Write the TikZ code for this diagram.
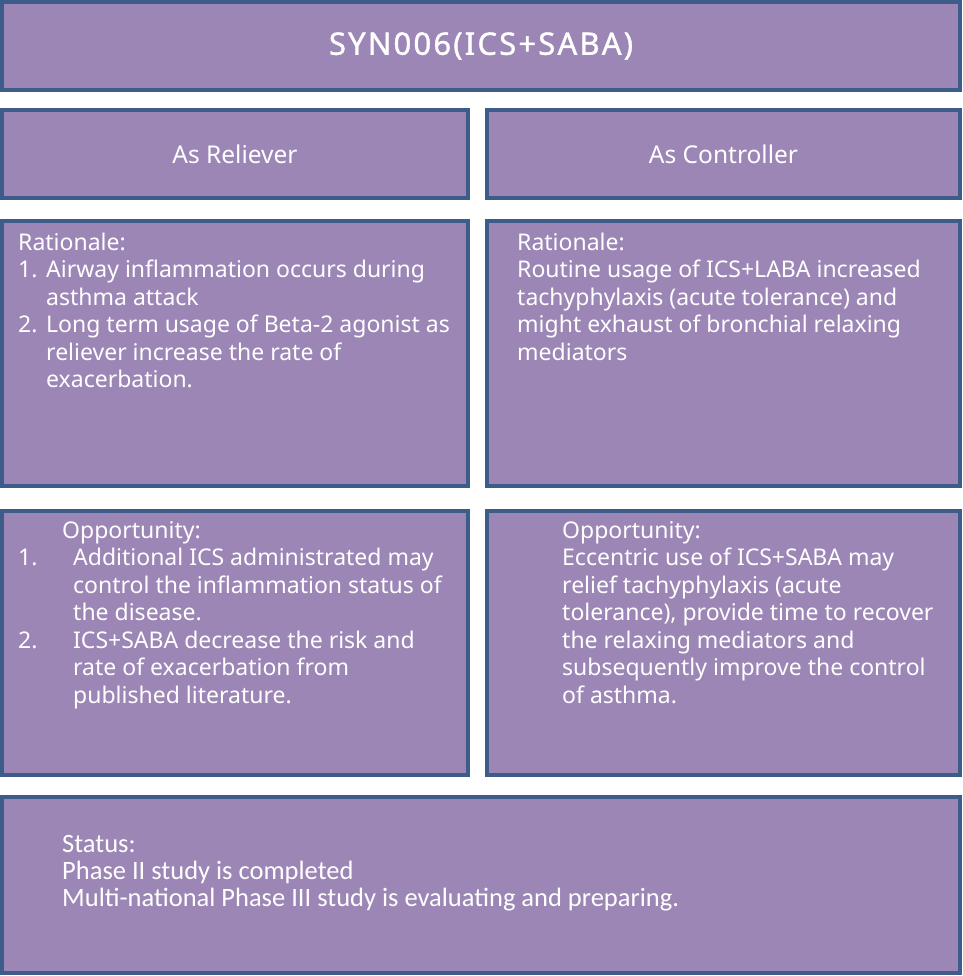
\documentclass[tikz,border=0pt]{standalone}
\usepackage{fontspec}
\setmainfont{Noto Sans}
\newfontfamily\statusfont{Carlito}
\newfontfamily\titlefont[LetterSpace=7,FakeBold=1.2]{Noto Sans}
\usetikzlibrary{positioning}

\definecolor{cardfill}{RGB}{156,134,182}
\definecolor{cardline}{RGB}{62,92,138}

\tikzset{
  card/.style={draw=cardline, fill=cardfill, line width=4pt, inner sep=0pt, text=white},
  cardtext/.style={text=white, font=\fontsize{23}{27.5}\selectfont, align=left, inner sep=0pt, anchor=base west},
}
\newcommand{\numbox}[2]{\makebox[#1][l]{#2}}

\begin{document}
\begin{tikzpicture}[x=1pt,y=-1pt]
    \useasboundingbox (0,0) rectangle (962,976);
    % cards
    \node[card, minimum width=958pt, minimum height=88pt, font=\titlefont\fontsize{31}{34}\selectfont] (title) at (481,46) {SYN006(ICS+SABA)};
    \node[card, minimum width=466pt, minimum height=88pt, font=\fontsize{24.5}{28}\selectfont] (reliever) at (235,154) {As Reliever};
    \node[card, minimum width=473pt, minimum height=88pt, font=\fontsize{24.5}{28}\selectfont] (controller) at (723.5,154) {As Controller};
    \node[card, minimum width=466pt, minimum height=265pt] (relrat) at (235,353.5) {};
    \node[card, minimum width=473pt, minimum height=265pt] (conrat) at (723.5,353.5) {};
    \node[card, minimum width=466pt, minimum height=264pt] (relopp) at (235,643) {};
    \node[card, minimum width=473pt, minimum height=264pt] (conopp) at (723.5,643) {};
    \node[card, minimum width=958pt, minimum height=176pt] (status) at (481,885) {};
    % texts (base anchor sits on the last line)
    \node[cardtext] (relrattext) at (18,387.5) {Rationale:\\
      \numbox{28pt}{1.}Airway inflammation occurs during\\
      \hspace*{28pt}asthma attack\\
      \numbox{28pt}{2.}Long term usage of Beta-2 agonist as\\
      \hspace*{28pt}reliever increase the rate of\\
      \hspace*{28pt}exacerbation.};
    \node[cardtext] (conrattext) at (517,360) {Rationale:\\
      Routine usage of ICS+LABA increased\\
      tachyphylaxis (acute tolerance) and\\
      might exhaust of bronchial relaxing\\
      mediators};
    \node[cardtext] (relopptext) at (18,703) {\hspace*{44pt}Opportunity:\\
      \numbox{55pt}{1.}Additional ICS administrated may\\
      \hspace*{55pt}control the inflammation status of\\
      \hspace*{55pt}the disease.\\
      \numbox{55pt}{2.}ICS+SABA decrease the risk and\\
      \hspace*{55pt}rate of exacerbation from\\
      \hspace*{55pt}published literature.};
    \node[cardtext] (conopptext) at (562,703) {Opportunity:\\
      Eccentric use of ICS+SABA may\\
      relief tachyphylaxis (acute\\
      tolerance), provide time to recover\\
      the relaxing mediators and\\
      subsequently improve the control\\
      of asthma.};
    \node[cardtext, font=\statusfont\fontsize{26.5}{27}\selectfont] (statustext) at (62,906) {Status:\\
      Phase II study is completed\\
      Multi-national Phase III study is evaluating and preparing.};
\end{tikzpicture}
\end{document}
